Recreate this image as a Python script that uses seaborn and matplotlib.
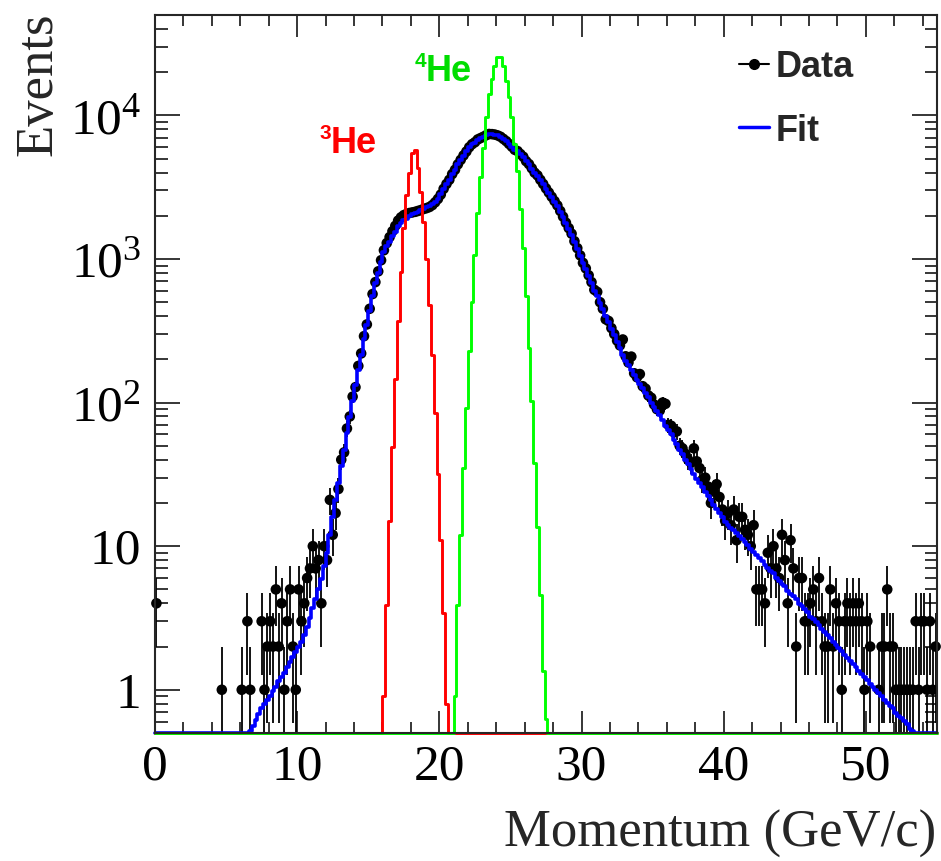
import numpy as np
import pandas as pd
import matplotlib
matplotlib.use("Agg")
import matplotlib.pyplot as plt
import seaborn as sns
from matplotlib.lines import Line2D
from matplotlib.ticker import FixedLocator, FixedFormatter, MultipleLocator, LogLocator, NullFormatter

# ---------------- data ----------------
x_range = (0.0, 55.0)          # momentum axis, GeV/c
n_bins = 275                   # 0.2 GeV/c bins
y_range = (0.5, 5.0e4)

# observed events per bin (bin 0 .. 274)
data_counts = [
    4, 0, 0, 0, 0, 0, 0, 0, 0, 0,
    0, 0, 0, 0, 0, 0, 0, 0, 0, 0,
    0, 0, 0, 1, 0, 0, 0, 0, 0, 0,
    1, 0, 3, 1, 0, 0, 0, 3, 1, 2,
    3, 2, 5, 2, 4, 1, 3, 5, 2, 1,
    5, 3, 4, 6, 7, 10, 7, 8, 4, 10,
    8, 21, 12, 17, 25, 40, 45, 66, 80, 110,
    128, 180, 220, 290, 350, 450, 570, 690, 820, 980,
    1150, 1290, 1420, 1560, 1700, 1850, 1950, 2020, 2060, 2090,
    2110, 2130, 2160, 2190, 2230, 2260, 2300, 2370, 2480, 2620,
    2810, 3080, 3330, 3560, 3900, 4180, 4560, 4900, 5260, 5600,
    6000, 6300, 6500, 6800, 6950, 7100, 7280, 7420, 7400, 7350,
    7250, 7100, 6860, 6620, 6330, 6050, 5760, 5640, 5380, 5150,
    4800, 4580, 4280, 3990, 3820, 3560, 3330, 3100, 2900, 2710,
    2530, 2360, 2160, 1970, 1790, 1640, 1500, 1330, 1190, 1060,
    940, 860, 770, 690, 610, 590, 500, 450, 380, 370,
    330, 300, 270, 250, 275, 210, 190, 209, 160, 150,
    158, 130, 125, 112, 108, 97, 90, 88, 100, 98,
    70, 69, 62, 63, 50, 48, 44, 40, 38, 48,
    39, 35, 29, 30, 26, 20, 24, 27, 22, 18,
    15, 17, 14, 18, 11, 16, 16, 13, 12, 10,
    14, 5, 5, 5, 4, 9, 7, 10, 7, 6,
    12, 8, 4, 11, 7, 2, 6, 6, 3, 3,
    4, 5, 3, 6, 3, 2, 2, 5, 2, 4,
    3, 1, 3, 4, 3, 4, 3, 4, 3, 1,
    3, 2, 0, 0, 1, 2, 2, 5, 2, 2,
    1, 1, 1, 1, 1, 1, 1, 3, 1, 3,
    3, 1, 3, 1, 2,
]

# fit, log10(events) per bin, starting at bin 33
fit_first_bin = 33
fit_log10 = [
    -0.29, -0.25, -0.21, -0.17, -0.13, -0.10, -0.07,
    -0.04, -0.01, 0.02, 0.06, 0.09, 0.12, 0.16, 0.19, 0.23, 0.26,
    0.30, 0.33, 0.38, 0.44, 0.50, 0.57, 0.63, 0.70, 0.77, 0.86,
    0.95, 1.08, 1.20, 1.32, 1.44, 1.56, 1.67, 1.79, 1.90, 2.01,
    2.12, 2.23, 2.33, 2.44, 2.54, 2.64, 2.74, 2.83, 2.90, 2.98,
    3.05, 3.09, 3.12, 3.16, 3.19, 3.23, 3.25, 3.27, 3.28, 3.30,
    3.31, 3.32, 3.33, 3.34, 3.35, 3.36, 3.37, 3.38, 3.40, 3.42,
    3.45, 3.49, 3.52, 3.55, 3.59, 3.62, 3.66, 3.69, 3.72, 3.75,
    3.78, 3.80, 3.81, 3.83, 3.84, 3.85, 3.86, 3.87, 3.87, 3.865,
    3.86, 3.85, 3.835, 3.82, 3.80, 3.78, 3.76, 3.75, 3.73, 3.71,
    3.68, 3.66, 3.63, 3.60, 3.58, 3.55, 3.52, 3.49, 3.46, 3.43,
    3.40, 3.37, 3.33, 3.29, 3.25, 3.21, 3.17, 3.12, 3.07, 3.02,
    2.97, 2.93, 2.88, 2.83, 2.78, 2.74, 2.69, 2.65, 2.60, 2.56,
    2.51, 2.47, 2.42, 2.38, 2.33, 2.29, 2.26, 2.23, 2.19, 2.16,
    2.13, 2.10, 2.07, 2.04, 2.00, 1.97, 1.94, 1.91, 1.88, 1.84,
    1.81, 1.78, 1.74, 1.71, 1.67, 1.64, 1.60, 1.57, 1.54, 1.50,
    1.47, 1.44, 1.41, 1.38, 1.35, 1.32, 1.29, 1.26, 1.23, 1.20,
    1.17, 1.15, 1.13, 1.11, 1.09, 1.07, 1.05, 1.03, 1.01, 0.98,
    0.96, 0.94, 0.92, 0.90, 0.87, 0.85, 0.83, 0.81, 0.78, 0.76,
    0.74, 0.72, 0.69, 0.67, 0.65, 0.63, 0.60, 0.58, 0.56, 0.54,
    0.51, 0.49, 0.47, 0.45, 0.42, 0.40, 0.38, 0.36, 0.33, 0.31,
    0.29, 0.27, 0.24, 0.22, 0.20, 0.18, 0.16, 0.13, 0.11, 0.09,
    0.07, 0.04, 0.02, 0.00, -0.02, -0.04, -0.07, -0.09, -0.11, -0.13,
    -0.16, -0.18, -0.20, -0.22, -0.24, -0.27, -0.29, -0.31,
]

# 3He template, starting at bin 80
he3_first_bin = 80
he3_counts = [0.9, 3.9, 15, 49, 145, 370, 810, 1650, 2800, 4000, 5500, 5700,
              4300, 2950, 1820, 1000, 480, 215, 85, 32, 11, 3.4, 0.8]

# 4He template, starting at bin 105
he4_first_bin = 105
he4_counts = [0.9, 3.9, 12, 35, 91, 229, 500, 1070, 2090, 3700, 5900, 9800,
              14100, 17800, 21900, 25700, 25700, 21900, 17400, 13500, 9800,
              6300, 4070, 2240, 1200, 550, 240, 102, 38, 13.5, 4.6, 1.35, 0.63]

x_ticks = [0, 10, 20, 30, 40, 50]
x_tick_labels = ["0", "10", "20", "30", "40", "50"]
y_ticks = [1, 10, 100, 1000, 10000]
y_tick_labels = ["1", "10", r"$\mathregular{10^{2}}$", r"$\mathregular{10^{3}}$",
                 r"$\mathregular{10^{4}}$"]
legend_labels = ["Data", "Fit"]
x_title = "Momentum (GeV/c)"
y_title = "Events"

# ---------------- style ----------------
sns.set_style("ticks")
plt.rcParams["font.family"] = ["Liberation Serif", "DejaVu Serif"]
plt.rcParams["mathtext.fontset"] = "custom"
plt.rcParams["mathtext.rm"] = "Liberation Serif"
plt.rcParams["mathtext.it"] = "Liberation Serif:italic"
plt.rcParams["mathtext.bf"] = "Liberation Serif:bold"

C_DATA = "#000000"
C_FIT = "#0000ff"
C_HE3 = "#ff0000"
C_HE4 = "#00ff00"
C_HE4_TXT = "#00dd00"

W, H = 941, 861
fig = plt.figure(figsize=(W / 100, H / 100), dpi=100)


def fx(px):
    return px / W


def fy(py):
    return 1 - py / H


ax = fig.add_axes([fx(155), fy(733), fx(937) - fx(155), fy(15) - fy(733)])
ax.set_yscale("log")
ax.set_xlim(*x_range)
ax.set_ylim(*y_range)

edges = np.linspace(x_range[0], x_range[1], n_bins + 1)
centers = 0.5 * (edges[:-1] + edges[1:])


def full(first, vals):
    arr = np.zeros(n_bins)
    arr[first:first + len(vals)] = vals
    return arr


def steps(vals):
    y = np.append(vals, vals[-1])
    y = np.clip(y, y_range[0], None)  # empty bins sit on the axis floor, as in ROOT
    return pd.DataFrame({"p": edges, "n": y})


fit_counts = full(fit_first_bin, 10 ** np.array(fit_log10))
he3 = full(he3_first_bin, he3_counts)
he4 = full(he4_first_bin, he4_counts)

# data points with Poisson error bars
dfd = pd.DataFrame({"p": centers, "n": np.array(data_counts, dtype=float)})
dfd = dfd[dfd["n"] > 0]
err = np.sqrt(dfd["n"].values)
ax.vlines(dfd["p"], dfd["n"] - err, dfd["n"] + err, colors=C_DATA,
          linewidth=1.3, zorder=2)
sns.scatterplot(data=dfd, x="p", y="n", ax=ax, color=C_DATA, s=58,
                edgecolor="none", linewidth=0, zorder=2.5, clip_on=False,
                legend=False)

# fit and templates as step histograms
for vals, col, lw, z in [(fit_counts, C_FIT, 2.6, 3), (he3, C_HE3, 2.1, 4),
                         (he4, C_HE4, 2.1, 5)]:
    sns.lineplot(data=steps(vals), x="p", y="n", ax=ax, color=col,
                 linewidth=lw, drawstyle="steps-post", estimator=None,
                 sort=False, legend=False, zorder=z, clip_on=False)

# axes cosmetics (ROOT-like)
ax.set_xlabel("")
ax.set_ylabel("")
for s in ax.spines.values():
    s.set_linewidth(1.5)
    s.set_zorder(6)
ax.xaxis.set_major_locator(FixedLocator(x_ticks))
ax.xaxis.set_major_formatter(FixedFormatter(x_tick_labels))
ax.xaxis.set_minor_locator(MultipleLocator(2))
ax.yaxis.set_major_locator(FixedLocator(y_ticks))
ax.yaxis.set_major_formatter(FixedFormatter(y_tick_labels))
ax.yaxis.set_minor_locator(LogLocator(base=10, subs=np.arange(2, 10), numticks=50))
ax.yaxis.set_minor_formatter(NullFormatter())
ax.tick_params(which="both", direction="in", top=True, right=True, width=1.1,
               labelsize=37, colors="black")
ax.tick_params(axis="x", which="major", length=16, pad=8)
ax.tick_params(axis="x", which="minor", length=8)
ax.tick_params(axis="y", which="major", length=18, pad=10)
ax.tick_params(axis="y", which="minor", length=9)

# axis titles
fig.text(fx(38), fy(13), y_title, rotation=90, ha="center", va="top",
         fontsize=38)
fig.text(fx(936), fy(847), x_title, ha="right", va="baseline", fontsize=38)

# peak labels
sans_bold = dict(family=["Liberation Sans", "DejaVu Sans"], fontweight="bold")
fig.text(fx(320), fy(139), "3", color=C_HE3, fontsize=15, va="baseline", **sans_bold)
fig.text(fx(331), fy(153), "He", color=C_HE3, fontsize=26, va="baseline", **sans_bold)
fig.text(fx(415), fy(67), "4", color=C_HE4_TXT, fontsize=15, va="baseline", **sans_bold)
fig.text(fx(426), fy(81), "He", color=C_HE4_TXT, fontsize=26, va="baseline", **sans_bold)

# legend
fig.add_artist(Line2D([fx(739), fx(769)], [fy(64), fy(64)], color=C_DATA, lw=1.5))
fig.add_artist(Line2D([fx(754)], [fy(64)], color=C_DATA, marker="o", ms=7, lw=0))
fig.add_artist(Line2D([fx(739), fx(769)], [fy(127), fy(127)], color=C_FIT, lw=2.5))
fig.text(fx(776), fy(77), legend_labels[0], fontsize=26, va="baseline", **sans_bold)
fig.text(fx(776), fy(141), legend_labels[1], fontsize=26, va="baseline", **sans_bold)

fig.savefig("out.png", dpi=100)
